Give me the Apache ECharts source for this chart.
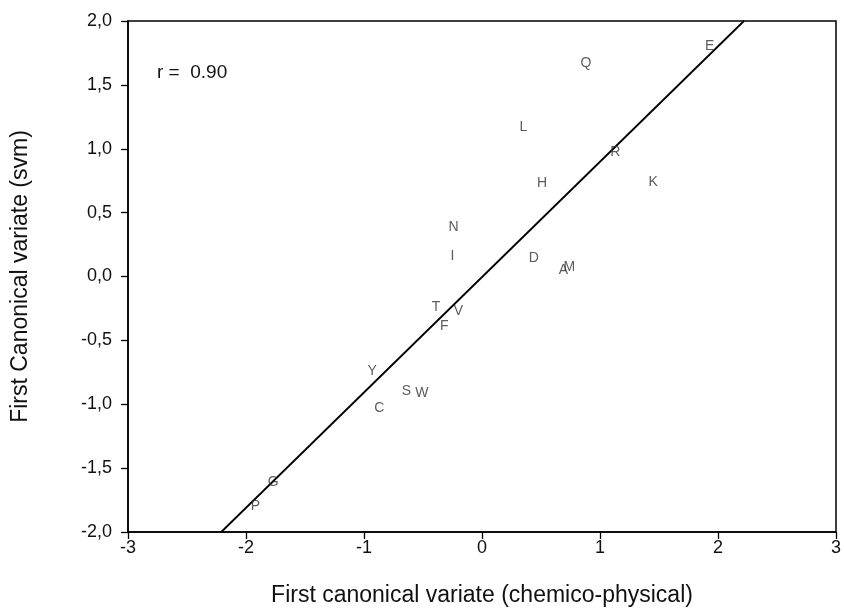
<!DOCTYPE html>
<html>
<head>
<meta charset="utf-8">
<script src="https://cdn.jsdelivr.net/npm/echarts@6/dist/echarts.min.js"></script>
<style>html,body{margin:0;padding:0;background:#fff}#c{width:844px;height:616px}</style>
</head>
<body>
<div id="c"></div>
<script>
var letters = ['E','Q','L','R','H','K','N','I','D','A','M','T','V','F','Y','S','W','C','G','P'];
var xValues = [1.93,0.88,0.35,1.13,0.51,1.45,-0.24,-0.25,0.44,0.69,0.74,-0.39,-0.20,-0.32,-0.93,-0.64,-0.51,-0.87,-1.77,-1.92];
var yValues = [1.80,1.67,1.17,0.97,0.73,0.74,0.39,0.16,0.14,0.05,0.07,-0.24,-0.27,-0.39,-0.74,-0.90,-0.91,-1.03,-1.61,-1.80];
var lineX = [-2.21, 2.22];
var lineY = [-2.0, 2.0];
var xTicks = [-3,-2,-1,0,1,2,3];
var yTicks = [-2,-1.5,-1,-0.5,0,0.5,1,1.5,2];
var rText = 'r =  0.90';

var chart = echarts.init(document.getElementById('c'));
var pts = letters.map(function(l,i){ return {name:l, value:[xValues[i], yValues[i]]}; });
var font = '"Liberation Sans", Arial, sans-serif';
chart.setOption({
  animation:false,
  backgroundColor:'#fff',
  grid:{left:128,right:6,top:21,bottom:84,show:true,borderColor:'#000',borderWidth:1.5},
  xAxis:{type:'value',min:-3,max:3,interval:1,
    name:'First canonical variate (chemico-physical)',nameLocation:'middle',nameGap:52,
    nameTextStyle:{fontFamily:font,fontSize:23,color:'#111'},
    axisLine:{show:true,onZero:false,lineStyle:{color:'#000',width:1.5}},
    axisTick:{show:true,length:7,lineStyle:{color:'#000',width:1.3}},
    axisLabel:{margin:7,fontFamily:font,fontSize:18,color:'#111',
      formatter:function(v){return xTicks.indexOf(v)>=0?String(v):'';}},
    splitLine:{show:false}},
  yAxis:{type:'value',min:-2,max:2,interval:0.5,
    name:'First Canonical variate (svm)',nameLocation:'middle',nameGap:96,
    nameTextStyle:{fontFamily:font,fontSize:23,color:'#111'},
    axisLine:{show:true,onZero:false,lineStyle:{color:'#000',width:1.5}},
    axisTick:{show:true,length:7,lineStyle:{color:'#000',width:1.3}},
    axisLabel:{margin:16,fontFamily:font,fontSize:18,color:'#111',
      formatter:function(v){return yTicks.indexOf(v)>=0?v.toFixed(1).replace('.',','):'';}},
    splitLine:{show:false}},
  graphic:[{type:'text',left:157,top:63,style:{text:rText,font:'19px '+font,fill:'#111'}}],
  series:[
    {type:'line',data:lineX.map(function(x,i){return [x,lineY[i]];}),symbol:'none',
     lineStyle:{color:'#000',width:1.8},clip:true,z:2},
    {type:'scatter',data:pts,symbolSize:1,itemStyle:{color:'rgba(0,0,0,0)'},
     label:{show:true,position:'inside',formatter:'{b}',fontFamily:font,fontSize:14,color:'#333'},z:3}
  ]
});
</script>
</body>
</html>
